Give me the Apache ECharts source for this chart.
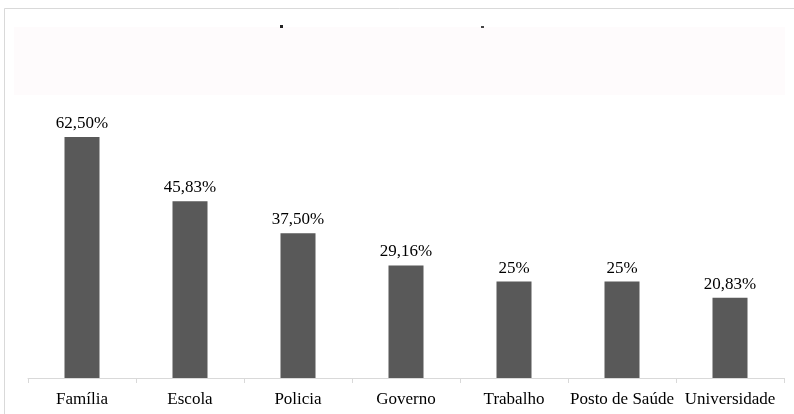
<!DOCTYPE html>
<html>
<head>
<meta charset="utf-8">
<script src="https://cdn.jsdelivr.net/npm/echarts@6/dist/echarts.min.js"></script>
<style>html,body{margin:0;padding:0;background:#fff;}#c{width:794px;height:414px;}</style>
</head>
<body>
<div id="c"></div>
<script>
const categories = ['Família', 'Escola', 'Policia', 'Governo', 'Trabalho', 'Posto de Saúde', 'Universidade'];
const values = [62.50, 45.83, 37.50, 29.16, 25, 25, 20.83];
const valueLabels = ['62,50%', '45,83%', '37,50%', '29,16%', '25%', '25%', '20,83%'];

const chart = echarts.init(document.getElementById('c'), null, {renderer: 'canvas'});
chart.setOption({
  backgroundColor: '#ffffff',
  animation: false,
  graphic: [
    {type: 'rect', shape: {x: 4.5, y: 8.5, width: 800, height: 420}, style: {fill: 'none', stroke: '#d9d9d9', lineWidth: 1}},
    {type: 'rect', shape: {x: 14, y: 27, width: 771, height: 68}, style: {fill: '#fefbfc'}},
    {type: 'rect', shape: {x: 280, y: 25, width: 3, height: 3}, style: {fill: '#222'}},
    {type: 'rect', shape: {x: 481, y: 26, width: 3, height: 2}, style: {fill: '#444'}}
  ],
  grid: {left: 28, right: 10, top: 108, bottom: 36, containLabel: false},
  xAxis: {
    type: 'category',
    data: categories,
    axisLine: {lineStyle: {color: '#d9d9d9', width: 1}},
    axisTick: {show: true, alignWithLabel: false, length: 5, lineStyle: {color: '#d9d9d9'}},
    axisLabel: {color: '#000', fontFamily: 'Liberation Serif', fontSize: 17, margin: 13, interval: 0}
  },
  yAxis: {
    type: 'value', min: 0, max: 70, show: false,
    splitLine: {show: false}
  },
  series: [{
    type: 'bar',
    data: values,
    barWidth: 35,
    itemStyle: {color: '#595959'},
    label: {
      show: true, position: 'top', distance: 5,
      color: '#000', fontFamily: 'Liberation Serif', fontSize: 17,
      formatter: p => valueLabels[p.dataIndex]
    }
  }]
});
</script>
</body>
</html>
